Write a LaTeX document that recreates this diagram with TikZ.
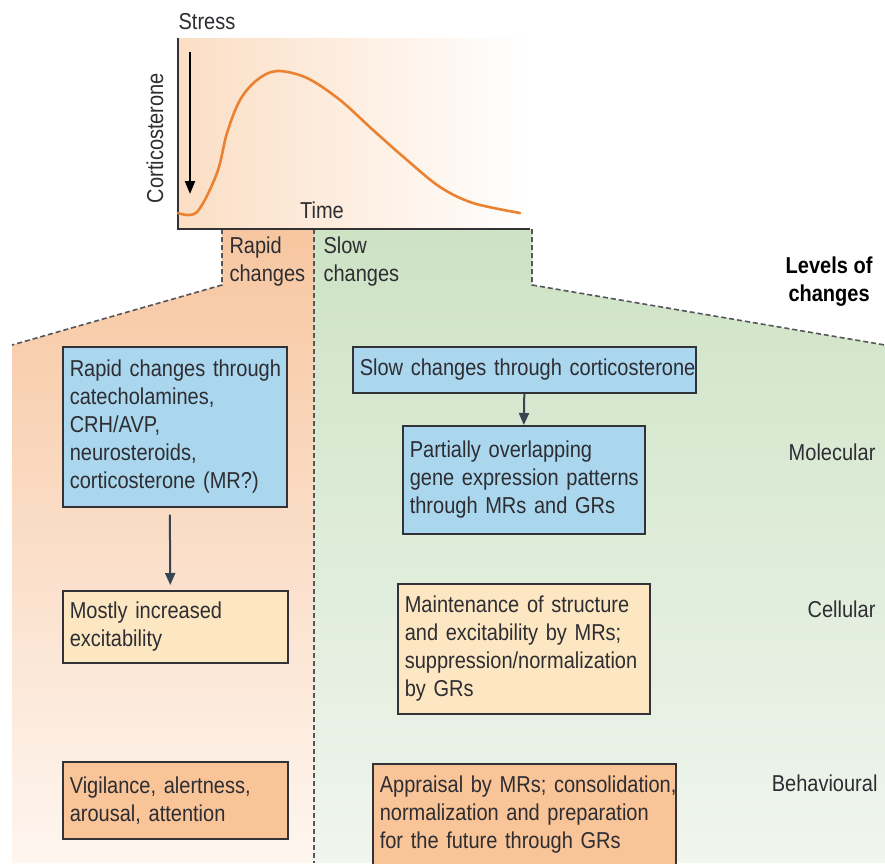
\documentclass[tikz,border=0pt]{standalone}
\usepackage{fontspec}
\setmainfont{Liberation Sans}[FakeStretch=0.87]
\usetikzlibrary{arrows.meta}
\definecolor{txt}{RGB}{45,45,50}
\definecolor{boxline}{RGB}{50,50,55}
\definecolor{bluebox}{RGB}{170,214,238}
\definecolor{yelbox}{RGB}{253,231,194}
\definecolor{orabox}{RGB}{248,196,152}
\definecolor{rapidtop}{RGB}{247,198,160}
\definecolor{rapidbot}{RGB}{254,246,240}
\definecolor{slowtop}{RGB}{205,227,196}
\definecolor{slowbot}{RGB}{240,245,238}
\definecolor{graphleft}{RGB}{251,222,196}
\definecolor{curveor}{RGB}{234,130,50}
\definecolor{arrowc}{RGB}{55,68,82}
\definecolor{dashc}{RGB}{85,85,90}
\newcommand\fs{\fontsize{23}{28}\selectfont}
\newcommand\lne[1]{\mbox{#1}}
\begin{document}
\begin{tikzpicture}[x=1pt,y=-1pt,
  every node/.style={font=\fs, text=txt},
  boxn/.style args={#1/#2}{draw=boxline, line width=1.6pt, anchor=north west,
     inner xsep=7pt, inner ysep=0pt, align=left,
     text width=#1pt-14pt, minimum width=#1pt, minimum height=#2pt},
  dashln/.style={draw=dashc, line width=1.6pt, dash pattern=on 5pt off 3pt},
  flow/.style={draw=arrowc, line width=2pt, -{Triangle[length=12pt,width=10pt]}},
  lvl/.style={anchor=east}]
\useasboundingbox (0,0) rectangle (885,863);
\fill[white] (0,0) rectangle (885,863);
% background regions
\shade[top color=rapidtop, bottom color=rapidbot]
  (222,229) -- (314,229) -- (314,863) -- (12,863) -- (12,345) -- (222,285) -- cycle;
\shade[top color=slowtop, bottom color=slowbot]
  (314,229) -- (532,229) -- (532,285) -- (885,345) -- (885,863) -- (314,863) -- cycle;
\draw[dashln] (222,229) -- (222,285) -- (12,345);
\draw[dashln] (314,229) -- (314,863);
\draw[dashln] (532,229) -- (532,285) -- (885,345);
% graph
\shade[left color=graphleft, right color=white] (178,38) rectangle (530,229);
\draw[line width=1.8pt, draw=boxline] (178,38) -- (178,229) -- (530,229);
\draw[line width=2.6pt, draw=curveor, line cap=round]
  plot[smooth, tension=0.55] coordinates {(178,213) (197,212) (217,173) (227,133) (240,100)
  (257,80) (277,71) (307,78) (340,100) (373,130) (407,160) (440,187) (473,203) (520,213)};
\coordinate (s1) at (190,52);
\coordinate (s2) at (190,194);
\draw[line width=2.2pt, -{Triangle[length=13pt,width=10pt]}] (s1) -- (s2);
\node (stress) at (207,22) {Stress};
\node[rotate=90] (cort) at (155,138) {Corticosterone};
\node (time) at (322,210) {Time};
% column labels
\node[anchor=west, align=left] (rapid) at (226,262) {Rapid\\changes};
\node[anchor=west, align=left] (slow) at (320,262) {Slow\\changes};
\node[anchor=east, align=center, font=\fs\bfseries, text=black] (levels) at (876,282) {Levels of\\changes};
% level labels
\node[lvl] (mol) at (879,452) {Molecular};
\node[lvl] (cel) at (879,609) {Cellular};
\node[lvl] (beh) at (881,783) {Behavioural};
% boxes
\node[boxn=224/160, fill=bluebox] (b1) at (62,346)
  {\lne{Rapid changes through}\\\lne{catecholamines,}\\\lne{CRH/AVP,}\\\lne{neurosteroids,}\\\lne{corticosterone (MR?)}};
\node[boxn=343/46, fill=bluebox] (b2) at (352,346)
  {\lne{Slow changes through corticosterone}};
\node[boxn=242/108, fill=bluebox] (b3) at (402,425)
  {\lne{Partially overlapping}\\\lne{gene expression patterns}\\\lne{through MRs and GRs}};
\node[boxn=225/72, fill=yelbox] (b4) at (62,590)
  {\lne{Mostly increased}\\\lne{excitability}};
\node[boxn=252/130, fill=yelbox] (b5) at (397,583)
  {\lne{Maintenance of structure}\\\lne{and excitability by MRs;}\\\lne{suppression/normalization}\\\lne{by GRs}};
\node[boxn=225/77, fill=orabox] (b6) at (62,761)
  {\lne{Vigilance, alertness,}\\\lne{arousal, attention}};
\node[boxn=303/102, fill=orabox] (b7) at (372,763)
  {\lne{Appraisal by MRs; consolidation,}\\\lne{normalization and preparation}\\\lne{for the future through GRs}};
% arrows
\draw[flow, shorten <=7pt, shorten >=5pt] ([xshift=-5pt]b1.south) -- ([xshift=-5pt]b4.north);
\draw[flow] (b2.south) -- (b3.north);
\end{tikzpicture}
\end{document}
